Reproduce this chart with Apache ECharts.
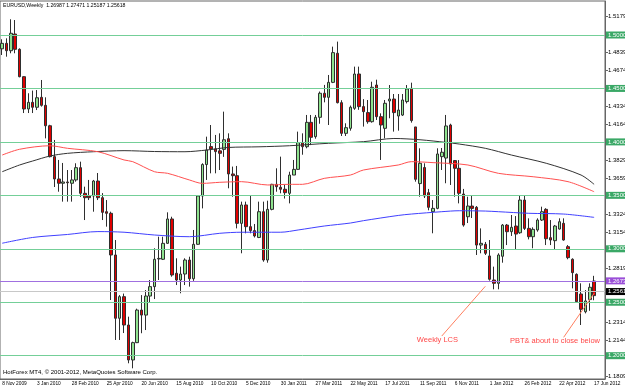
<!DOCTYPE html>
<html>
<head>
<meta charset="utf-8">
<script src="https://cdn.jsdelivr.net/npm/echarts@6/dist/echarts.min.js"></script>
<style>
  html, body { margin: 0; padding: 0; background: #fff; }
  #chart { width: 625px; height: 387px; }
</style>
</head>
<body>
<div id="chart"></div>
<script>
// weekly EURUSD candles, 8 Nov 2009 .. 17 Jun 2012
const opens = [
  1.4871, 1.4922, 1.4853, 1.5009, 1.4866, 1.4610, 1.4308, 1.4370, 1.4324, 1.4417,
  1.4342, 1.4151, 1.3862, 1.3653, 1.3613, 1.3625, 1.3613, 1.3644, 1.3759, 1.3519,
  1.3494, 1.3494, 1.3634, 1.3478, 1.3347, 1.3332, 1.2942, 1.2350, 1.2552, 1.2287,
  1.1960, 1.2122, 1.2427, 1.2380, 1.2558, 1.2646, 1.2905, 1.2902, 1.3051, 1.3279,
  1.2771, 1.2708, 1.2764, 1.2895, 1.2720, 1.3042, 1.3494, 1.3788, 1.3956, 1.3934,
  1.3916, 1.3930, 1.4030, 1.3700, 1.3684, 1.3238, 1.3410, 1.3207, 1.3170, 1.3106,
  1.3347, 1.2895, 1.3369, 1.3603, 1.3575, 1.3557, 1.3519, 1.3690, 1.3743, 1.3993,
  1.3955, 1.4183, 1.4049, 1.4230, 1.4455, 1.4417, 1.4557, 1.4829, 1.4367, 1.4080,
  1.4127, 1.4314, 1.4635, 1.4330, 1.4274, 1.4189, 1.4532, 1.4236, 1.4127, 1.4383,
  1.4401, 1.4242, 1.4251, 1.4377, 1.4501, 1.4140, 1.3610, 1.3760, 1.3525, 1.3347,
  1.3378, 1.3862, 1.3849, 1.4158, 1.3825, 1.3753, 1.3512, 1.3300, 1.3400, 1.3388,
  1.3035, 1.3042, 1.2933, 1.2708, 1.2677, 1.2930, 1.3222, 1.3160, 1.3213, 1.3150,
  1.3456, 1.3191, 1.3113, 1.3176, 1.3269, 1.3369, 1.3104, 1.3076, 1.3185, 1.3238,
  1.3020, 1.2902, 1.2761, 1.2577, 1.2411, 1.2525, 1.26987
];
const closes = [
  1.4922, 1.4853, 1.5016, 1.4866, 1.4610, 1.4308, 1.4370, 1.4324, 1.4413, 1.4342,
  1.4151, 1.3862, 1.3653, 1.3613, 1.3625, 1.3618, 1.3644, 1.3759, 1.3519, 1.3478,
  1.3478, 1.3634, 1.3478, 1.3341, 1.3332, 1.2942, 1.2350, 1.2552, 1.2287, 1.1960,
  1.2122, 1.2427, 1.2380, 1.2558, 1.2646, 1.2902, 1.2910, 1.3051, 1.3279, 1.2755,
  1.2708, 1.2764, 1.2895, 1.2720, 1.3042, 1.3494, 1.3788, 1.3924, 1.3934, 1.3909,
  1.3893, 1.4020, 1.3700, 1.3684, 1.3238, 1.3410, 1.3207, 1.3170, 1.3120, 1.3347,
  1.2895, 1.3369, 1.3603, 1.3581, 1.3557, 1.3525, 1.3690, 1.3743, 1.3993, 1.3955,
  1.4183, 1.4043, 1.4230, 1.4455, 1.4417, 1.4557, 1.4835, 1.4367, 1.4080, 1.4133,
  1.4324, 1.4635, 1.4330, 1.4283, 1.4189, 1.4511, 1.4236, 1.4158, 1.4361, 1.4401,
  1.4274, 1.4298, 1.4392, 1.4495, 1.4199, 1.3650, 1.3800, 1.3494, 1.3388, 1.3378,
  1.3887, 1.3903, 1.4149, 1.3793, 1.3753, 1.3519, 1.3222, 1.3400, 1.3378, 1.3035,
  1.3051, 1.2958, 1.2715, 1.2677, 1.2942, 1.3222, 1.3160, 1.3201, 1.3138, 1.3456,
  1.3191, 1.3113, 1.3182, 1.3269, 1.3347, 1.3094, 1.3082, 1.3213, 1.3253, 1.3082,
  1.2917, 1.2777, 1.2505, 1.2434, 1.2512, 1.2640, 1.25618
];
const lows = [
  1.4813, 1.4797, 1.4829, 1.4829, 1.4604, 1.4270, 1.4270, 1.4270, 1.4298, 1.4330,
  1.4033, 1.3855, 1.3578, 1.3534, 1.3441, 1.3441, 1.3441, 1.3628, 1.3485, 1.3269,
  1.3456, 1.3347, 1.3456, 1.3269, 1.3207, 1.2521, 1.2147, 1.2147, 1.2212, 1.1929,
  1.1882, 1.2118, 1.2210, 1.2240, 1.2493, 1.2530, 1.2708, 1.2895, 1.3046, 1.2739,
  1.2661, 1.2584, 1.2661, 1.2646, 1.2700, 1.3037, 1.3378, 1.3644, 1.3706, 1.3706,
  1.3737, 1.3860, 1.3566, 1.3487, 1.3191, 1.2958, 1.3145, 1.3145, 1.3106, 1.3100,
  1.2879, 1.2870, 1.3360, 1.3534, 1.3519, 1.3470, 1.3425, 1.3690, 1.3740, 1.3880,
  1.3940, 1.3970, 1.4030, 1.4170, 1.4370, 1.4158, 1.4550, 1.4360, 1.4055, 1.4055,
  1.4105, 1.4300, 1.4300, 1.4143, 1.4170, 1.4180, 1.4205, 1.3831, 1.4033, 1.4221,
  1.4096, 1.4105, 1.4242, 1.4360, 1.4180, 1.3628, 1.3487, 1.3475, 1.3360, 1.3145,
  1.3370, 1.3737, 1.3613, 1.3597, 1.3487, 1.3425, 1.3207, 1.3241, 1.3288, 1.2942,
  1.2958, 1.2942, 1.2702, 1.2621, 1.2621, 1.2870, 1.3035, 1.3120, 1.2989, 1.3140,
  1.3176, 1.3088, 1.3005, 1.3160, 1.3260, 1.3035, 1.3035, 1.2989, 1.3180, 1.3076,
  1.2902, 1.2630, 1.2495, 1.2287, 1.2396, 1.2420, 1.25187
];
const highs = [
  1.4960, 1.4969, 1.5147, 1.5140, 1.4875, 1.4615, 1.4455, 1.4480, 1.4485, 1.4579,
  1.4417, 1.4160, 1.4018, 1.3831, 1.3803, 1.3737, 1.3737, 1.3800, 1.3815, 1.3581,
  1.3644, 1.3644, 1.3709, 1.3521, 1.3456, 1.3347, 1.3082, 1.2567, 1.2581, 1.2365,
  1.2131, 1.2440, 1.2567, 1.2614, 1.2708, 1.3005, 1.3113, 1.3113, 1.3341, 1.3300,
  1.2911, 1.2833, 1.2911, 1.2926, 1.3176, 1.3500, 1.3800, 1.4049, 1.4158, 1.4065,
  1.4080, 1.4283, 1.4080, 1.3769, 1.3775, 1.3441, 1.3441, 1.3503, 1.3232, 1.3441,
  1.3441, 1.3450, 1.3608, 1.3753, 1.3862, 1.3600, 1.3721, 1.3831, 1.4096, 1.4080,
  1.4252, 1.4252, 1.4252, 1.4471, 1.4533, 1.4626, 1.4891, 1.4938, 1.4390, 1.4174,
  1.4340, 1.4704, 1.4704, 1.4400, 1.4392, 1.4563, 1.4582, 1.4267, 1.4392, 1.4532,
  1.4448, 1.4448, 1.4448, 1.4532, 1.4554, 1.4140, 1.3940, 1.3800, 1.3560, 1.3456,
  1.3940, 1.3943, 1.4252, 1.4170, 1.3830, 1.3830, 1.3560, 1.3487, 1.3503, 1.3400,
  1.3191, 1.3064, 1.3082, 1.2833, 1.2958, 1.3232, 1.3232, 1.3316, 1.3306, 1.3494,
  1.3494, 1.3285, 1.3201, 1.3285, 1.3394, 1.3380, 1.3269, 1.3223, 1.3285, 1.3285,
  1.3035, 1.2911, 1.2770, 1.2677, 1.2614, 1.2677, 1.27471
];

// moving averages, sampled as [bar index, price]
const maBlack = [[0,1.3721],[4,1.3784],[7,1.3821],[11,1.3868],[15,1.3893],[21,1.3908],[28,1.3918],[35,1.3910],
  [42,1.3908],[47,1.3924],[52,1.3948],[59,1.3954],[66,1.3964],[75,1.3987],[83,1.4002],[90,1.4032],[96,1.4020],
  [102,1.3995],[105,1.3980],[111,1.3940],[117,1.3877],[125,1.3800],[133,1.3690],[136,1.3603]];
const maRed = [[0,1.3877],[4,1.3931],[11,1.3964],[15,1.3940],[22,1.3908],[28,1.3831],[30,1.3815],[35,1.3721],
  [38,1.3706],[43,1.3644],[46,1.3612],[50,1.3622],[55,1.3628],[61,1.3597],[66,1.3603],[69,1.3603],[74,1.3659],
  [80,1.3690],[83,1.3737],[91,1.3784],[94,1.3815],[99,1.3806],[107,1.3784],[114,1.3706],[122,1.3674],
  [130,1.3628],[136,1.3534]];
const maBlue = [[0,1.3052],[7,1.3106],[15,1.3134],[22,1.3161],[28,1.3155],[35,1.3129],[43,1.3113],[50,1.3145],
  [55,1.3155],[64,1.3155],[68,1.3176],[74,1.3213],[80,1.3241],[83,1.3263],[91,1.3312],[94,1.3325],[101,1.3347],
  [105,1.3356],[111,1.3353],[114,1.3347],[121,1.3332],[129,1.3325],[136,1.3294]];

const levels = [1.50, 1.45, 1.40, 1.35, 1.30, 1.25, 1.20];
const purpleLevel = 1.26734;
const bidPrice = 1.25618;
const priceTicks = [1.51790, 1.48390, 1.46740, 1.43340, 1.41640, 1.38290, 1.36590,
  1.33240, 1.31540, 1.28190, 1.23140, 1.21440, 1.18090];

// week start dates + 2 empty slots for the chart shift on the right
const months = ['Jan','Feb','Mar','Apr','May','Jun','Jul','Aug','Sep','Oct','Nov','Dec'];
const weeks = [];
for (let i = 0; i < opens.length; i++) {
  const d = new Date(Date.UTC(2009, 10, 8 + 7 * i));
  weeks.push(d.getUTCDate() + ' ' + months[d.getUTCMonth()] + ' ' + d.getUTCFullYear());
}
weeks.push('', '');

const candles = opens.map((o, i) => [o, closes[i], lows[i], highs[i]]);

const FONT = 'Liberation Sans';
const levelLine = (v, line, bg) => ({
  yAxis: v, name: v.toFixed(5),
  lineStyle: { color: line, type: 'solid', width: 1 },
  label: { show: true, position: 'end', distance: 1, formatter: '{b}',
    backgroundColor: bg, color: '#fff', fontSize: 6, fontFamily: FONT, padding: [1, 2, 0, 2] }
});

const chart = echarts.init(document.getElementById('chart'));
chart.setOption({
  animation: false,
  backgroundColor: '#fff',
  title: [
    { text: 'EURUSD,Weekly  1.26987 1.27471 1.25187 1.25618', left: 3, top: 3, padding: 0,
      textStyle: { fontSize: 5.2, fontWeight: 'normal', color: '#000', fontFamily: FONT } },
    { text: 'HotForex MT4, \u00a9 2001-2012, MetaQuotes Software Corp.', left: 3, top: 369, padding: 0,
      textStyle: { fontSize: 6, fontWeight: 'normal', color: '#000', fontFamily: FONT } }
  ],
  grid: { left: 0, right: 20, top: 1, bottom: 8, containLabel: false, outerBoundsMode: 'none',
    show: true, borderColor: '#666', borderWidth: 1 },
  xAxis: {
    type: 'category', data: weeks, boundaryGap: true,
    axisLine: { lineStyle: { color: '#666' } },
    axisTick: { interval: 7, length: 3, lineStyle: { color: '#666' } },
    axisLabel: { interval: 7, align: 'left', margin: 2, fontSize: 4.8, color: '#000', fontFamily: FONT,
      hideOverlap: false },
    splitLine: { show: false }
  },
  yAxis: {
    type: 'value', position: 'right', min: 1.1782, max: 1.5318, scale: true,
    axisLine: { show: true, lineStyle: { color: '#666' } },
    axisTick: { show: true, length: 3, customValues: priceTicks, lineStyle: { color: '#666' } },
    axisLabel: { customValues: priceTicks, margin: 3, fontSize: 6, color: '#000', fontFamily: FONT,
      formatter: (v) => v.toFixed(5) },
    splitLine: { show: false }
  },
  series: [
    {
      type: 'line', data: [], silent: true,
      markLine: {
        silent: true, symbol: 'none', animation: false,
        data: [
          ...levels.map((v) => levelLine(v, '#74cf98', '#3aa866')),
          levelLine(purpleLevel, '#a070e0', '#9a4fd8'),
          levelLine(bidPrice, '#c8c8c8', '#000')
        ]
      }
    },
    { type: 'line', data: maBlack, smooth: 0.3, symbol: 'none', silent: true,
      lineStyle: { color: '#333', width: 1 } },
    { type: 'line', data: maRed, smooth: 0.3, symbol: 'none', silent: true,
      lineStyle: { color: '#ff5050', width: 1 } },
    { type: 'line', data: maBlue, smooth: 0.3, symbol: 'none', silent: true,
      lineStyle: { color: '#4040ff', width: 1 } },
    {
      type: 'candlestick', data: candles, barWidth: 3, silent: true,
      itemStyle: { color: '#8fe38f', color0: '#e00000', borderColor: '#2f2f2f', borderColor0: '#2f2f2f', borderWidth: 1 },
      markLine: {
        silent: true, symbol: 'none', animation: false,
        lineStyle: { color: '#ff8060', type: 'solid', width: 1 },
        label: { show: false },
        data: [
          [{ coord: [101, 1.2184] }, { coord: [111, 1.2649] }],
          [{ coord: [129, 1.2172] }, { coord: [136, 1.2584] }]
        ]
      },
      markPoint: {
        silent: true, symbol: 'rect', symbolSize: 1, itemStyle: { color: 'rgba(0,0,0,0)' },
        label: { show: true, position: 'inside', formatter: '{b}', color: '#ff4848', fontSize: 7.5, fontFamily: FONT },
        data: [
          { name: 'Weekly LCS', coord: [100, 1.2150] },
          { name: 'PBT& about to close below', coord: [127, 1.2137] }
        ]
      }
    }
  ]
});
</script>
</body>
</html>
